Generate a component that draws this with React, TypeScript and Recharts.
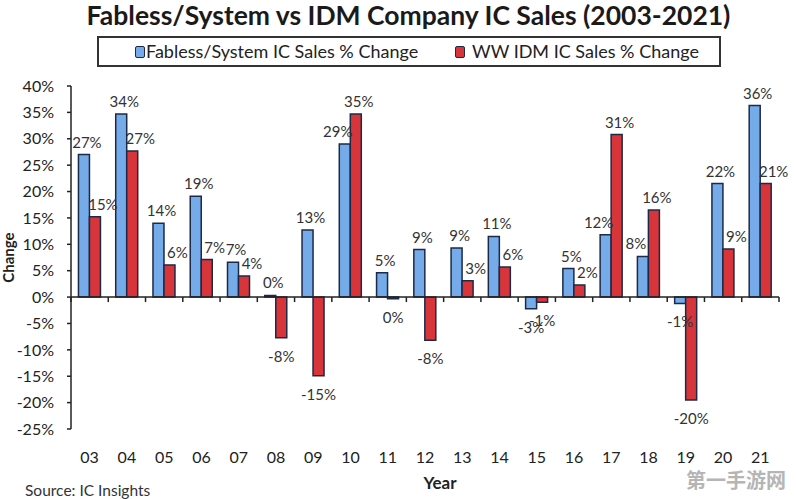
import React from "react";
import { Bar, BarChart, ReferenceLine, XAxis, YAxis } from "recharts";

const years = ["03", "04", "05", "06", "07", "08", "09", "10", "11", "12", "13", "14", "15", "16", "17", "18", "19", "20", "21"];
const fablessValues = [27, 34.7, 14, 19.1, 6.6, 0.3, 12.7, 29, 4.6, 9, 9.3, 11.5, -2.2, 5.4, 11.8, 7.7, -1.2, 21.5, 36.3];
const idmValues = [15.2, 27.7, 6.1, 7.1, 4.0, -7.7, -14.9, 34.7, -0.3, -8.2, 3.1, 5.7, -1.0, 2.3, 30.8, 16.5, -19.5, 9.1, 21.5];
const fablessLabels = ["27%", "34%", "14%", "19%", "7%", "0%", "13%", "29%", "5%", "9%", "9%", "11%", "-3%", "5%", "12%", "8%", "-1%", "22%", "36%"];
const idmLabels = ["15%", "27%", "6%", "7%", "4%", "-8%", "-15%", "35%", "0%", "-8%", "3%", "6%", "-1%", "2%", "31%", "16%", "-20%", "9%", "21%"];
const yTicks = [-25, -20, -15, -10, -5, 0, 5, 10, 15, 20, 25, 30, 35, 40];

const BLUE = "#74abe8";
const RED = "#d8353a";
const EDGE = "#1c2a48";
const FONT = "Lato, 'Open Sans', sans-serif";

const data = years.map((year, i) => ({
  year,
  fabless: fablessValues[i],
  idm: idmValues[i],
}));

function makeLabel(series: "fabless" | "idm") {
  return (props: any) => {
    const { x, y, width, height, index } = props;
    const own = series === "fabless" ? fablessValues[index] : idmValues[index];
    const other = series === "fabless" ? idmValues[index] : fablessValues[index];
    const text = series === "fabless" ? fablessLabels[index] : idmLabels[index];
    const top = Math.min(y, y + height);
    const bottom = Math.max(y, y + height);
    const cx = x + width / 2;
    let dx = 0;
    let ty = 0;
    if (own >= 0) {
      ty = top - 13;
      if (series === "fabless") dx = other > own ? -7 : 3;
      else dx = other > own ? 8 : 3;
    } else {
      ty = bottom + 18;
    }
    return (
      <text
        x={cx + dx}
        y={ty}
        textAnchor="middle"
        dominantBaseline="central"
        fontSize={15}
        fontFamily={FONT}
        fill="#333"
      >
        {text}
      </text>
    );
  };
}

function ZeroAxis(props: any) {
  const { x1, x2, y1 } = props;
  const n = years.length;
  const ticks = [];
  for (let i = 0; i <= n; i++) {
    const tx = x1 + ((x2 - x1) * i) / n;
    ticks.push(<line key={i} x1={tx} x2={tx} y1={y1} y2={y1 + 5} stroke="#222" strokeWidth={1.5} />);
  }
  return (
    <g>
      <line x1={x1} x2={x2} y1={y1} y2={y1} stroke="#222" strokeWidth={1.5} />
      {ticks}
    </g>
  );
}

export default function App() {
  return (
    <div
      style={{
        position: "absolute",
        left: 0,
        top: 0,
        width: 796,
        height: 499,
        background: "#fff",
        fontFamily: FONT,
        color: "#222",
        overflow: "hidden",
      }}
    >
      <div
        style={{
          position: "absolute",
          left: 60,
          width: 697,
          top: -1,
          textAlign: "center",
          fontSize: 26.5,
          fontWeight: 700,
          whiteSpace: "nowrap",
          color: "#1a1a1a",
        }}
      >
        Fabless/System vs IDM Company IC Sales (2003-2021)
      </div>

      <div
        style={{
          position: "absolute",
          left: 97,
          top: 36,
          width: 624,
          height: 31,
          border: "2px solid #333",
          boxSizing: "border-box",
          fontSize: 18,
          color: "#222",
        }}
      >
        <div style={{ position: "absolute", left: 36, top: 8, width: 8, height: 10, background: BLUE, border: `1px solid ${EDGE}`, borderRadius: 2 }} />
        <div style={{ position: "absolute", left: 47, top: 2, whiteSpace: "nowrap" }}>Fabless/System IC Sales % Change</div>
        <div style={{ position: "absolute", left: 356, top: 8, width: 8, height: 10, background: RED, border: `1px solid ${EDGE}`, borderRadius: 2 }} />
        <div style={{ position: "absolute", left: 373, top: 2, whiteSpace: "nowrap" }}>WW IDM IC Sales % Change</div>
      </div>

      <div style={{ position: "absolute", left: 0, top: 0 }}>
        <BarChart
          width={796}
          height={499}
          data={data}
          margin={{ top: 86, right: 17, bottom: 10, left: 11 }}
          barCategoryGap="20%"
          barGap={0}
        >
          <XAxis
            dataKey="year"
            axisLine={false}
            tickLine={false}
            height={60}
            tickMargin={17}
            tick={{ fontSize: 16, fill: "#222", fontFamily: FONT }}
            interval={0}
            label={{ value: "Year", position: "insideBottom", offset: 0, dx: 15, style: { fontWeight: 700, fontSize: 17, fill: "#222", fontFamily: FONT } }}
          />
          <YAxis
            width={60}
            domain={[-25, 40]}
            ticks={yTicks}
            interval={0}
            allowDataOverflow
            tickFormatter={(v: number) => `${v}%`}
            tickSize={4}
            tickMargin={13}
            axisLine={{ stroke: "#222", strokeWidth: 1.5 }}
            tickLine={{ stroke: "#222", strokeWidth: 1.5 }}
            tick={{ fontSize: 16, fill: "#222", fontFamily: FONT }}
            label={{ value: "Change", angle: -90, position: "insideLeft", offset: -2, style: { fontWeight: 700, fontSize: 15, fill: "#222", fontFamily: FONT, textAnchor: "middle" } }}
          />
          <Bar dataKey="fabless" fill={BLUE} stroke={EDGE} strokeWidth={1.5} isAnimationActive={false} label={makeLabel("fabless")} />
          <Bar dataKey="idm" fill={RED} stroke={EDGE} strokeWidth={1.5} isAnimationActive={false} label={makeLabel("idm")} />
          <ReferenceLine y={0} shape={ZeroAxis} />
        </BarChart>
      </div>

      <div style={{ position: "absolute", left: 25, top: 481, fontSize: 15.5, color: "#333", whiteSpace: "nowrap" }}>Source: IC Insights</div>
      <div
        style={{
          position: "absolute",
          left: 686,
          top: 465,
          fontSize: 20,
          fontWeight: 700,
          color: "#b5b5b5",
          fontFamily: "'Noto Sans CJK SC', sans-serif",
          whiteSpace: "nowrap",
        }}
      >
        第一手游网
      </div>
    </div>
  );
}
